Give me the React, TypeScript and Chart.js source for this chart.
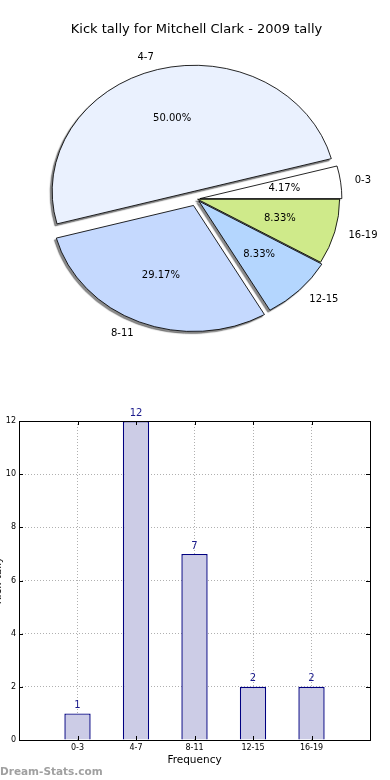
import React, { useEffect, useRef } from 'react';
import { Chart, registerables } from 'chart.js';

Chart.register(...registerables);

// ---------- data ----------
const TITLE = 'Kick tally for Mitchell Clark - 2009 tally';
const CATEGORIES = ['0-3', '4-7', '8-11', '12-15', '16-19'];
const COUNTS = [1, 12, 7, 2, 2];
const Y_TICKS = [0, 2, 4, 6, 8, 10, 12];
const X_AXIS_TITLE = 'Frequency';
const Y_AXIS_TITLE = 'Kick tally';
const WATERMARK = 'Dream-Stats.com';

// ---------- styles ----------
const FONT = 'DejaVu Sans';
const PIE_COLORS = ['#ffffff', '#eaf1fe', '#c5d9fe', '#b4d6fe', '#cfea8a'];
const PIE_EXPLODE_PX = [3, 8, 7, 3, 1];
const PIE_RADIUS = 126;
const PIE_XSCALE = 142 / 126;
const BAR_FILL = '#cccce6';
const BAR_EDGE = '#000080';

const rev = <T,>(a: T[]) => a.slice().reverse();

const pieDrawPlugin = {
  id: 'pieDraw',
  beforeDatasetsDraw(chart: any) {
    const ctx = chart.ctx as CanvasRenderingContext2D;
    const meta = chart.getDatasetMeta(0);
    const explode = rev(PIE_EXPLODE_PX);
    const drawAll = (shadow: boolean) => {
      meta.data.forEach((el: any, i: number) => {
        const { x, y, startAngle, endAngle } = el.getProps(['x', 'y', 'startAngle', 'endAngle'], true);
        const mid = (startAngle + endAngle) / 2;
        const d = explode[i];
        ctx.save();
        if (shadow) {
          ctx.translate(-2000, 0);
          ctx.shadowColor = 'rgba(60,60,60,0.6)';
          ctx.shadowOffsetX = 2000 - 2;
          ctx.shadowOffsetY = 2;
          ctx.shadowBlur = 1;
        }
        ctx.translate(x, y);
        ctx.scale(PIE_XSCALE, 1);
        ctx.translate(-x, -y);
        ctx.translate(Math.cos(mid) * d, Math.sin(mid) * d);
        el.draw(ctx);
        ctx.restore();
      });
    };
    drawAll(true);
    drawAll(false);
    return false;
  },
  afterDraw(chart: any) {
    const ctx = chart.ctx as CanvasRenderingContext2D;
    const meta = chart.getDatasetMeta(0);
    const explode = rev(PIE_EXPLODE_PX);
    const labels = rev(CATEGORIES);
    const values = rev(COUNTS);
    const total = COUNTS.reduce((a, b) => a + b, 0);
    ctx.save();
    ctx.fillStyle = '#000';
    ctx.font = `10px "${FONT}"`;
    ctx.textBaseline = 'middle';
    meta.data.forEach((el: any, i: number) => {
      const { x, y, startAngle, endAngle, outerRadius } = el.getProps(
        ['x', 'y', 'startAngle', 'endAngle', 'outerRadius'],
        true
      );
      const mid = (startAngle + endAngle) / 2;
      const d = explode[i];
      const c = Math.cos(mid);
      const s = Math.sin(mid);
      const lr = d + 1.1 * outerRadius;
      ctx.textAlign = c > 0 ? 'left' : 'right';
      ctx.fillText(labels[i], x + c * lr * PIE_XSCALE, y + s * lr);
      const pr = d + 0.6 * outerRadius;
      ctx.textAlign = 'center';
      ctx.fillText(((values[i] / total) * 100).toFixed(2) + '%', x + c * pr * PIE_XSCALE, y + s * pr);
    });
    ctx.restore();
  },
};

const barDecorPlugin = {
  id: 'barDecor',
  afterDraw(chart: any) {
    const ctx = chart.ctx as CanvasRenderingContext2D;
    const { left, top, right, bottom } = chart.chartArea;
    const xs = chart.scales.x;
    const ys = chart.scales.y;
    ctx.save();
    ctx.strokeStyle = '#000';
    ctx.lineWidth = 1;
    // inward tick marks
    ctx.beginPath();
    CATEGORIES.forEach((_, i) => {
      const px = Math.round(xs.getPixelForValue(i + 1)) + 0.5;
      ctx.moveTo(px, bottom);
      ctx.lineTo(px, bottom - 4);
      ctx.moveTo(px, top);
      ctx.lineTo(px, top + 4);
    });
    Y_TICKS.forEach((v) => {
      const py = Math.round(ys.getPixelForValue(v)) + 0.5;
      ctx.moveTo(left, py);
      ctx.lineTo(left + 4, py);
      ctx.moveTo(right, py);
      ctx.lineTo(right - 4, py);
    });
    ctx.stroke();
    ctx.strokeRect(Math.round(left) + 0.5, Math.round(top) + 0.5, Math.round(right - left), Math.round(bottom - top));
    // value labels
    const meta = chart.getDatasetMeta(0);
    ctx.fillStyle = '#1a1a8c';
    ctx.font = `10px "${FONT}"`;
    ctx.textAlign = 'center';
    ctx.textBaseline = 'bottom';
    meta.data.forEach((el: any, i: number) => {
      const { x, y } = el.getProps(['x', 'y'], true);
      ctx.fillText(String(COUNTS[i]), x, y - 3);
    });
    ctx.restore();
  },
};

export default function App() {
  const pieRef = useRef<HTMLCanvasElement>(null);
  const barRef = useRef<HTMLCanvasElement>(null);

  useEffect(() => {
    const pie = new Chart(pieRef.current as HTMLCanvasElement, {
      type: 'pie',
      data: {
        labels: rev(CATEGORIES),
        datasets: [
          {
            data: rev(COUNTS),
            backgroundColor: rev(PIE_COLORS),
            borderColor: '#000',
            borderWidth: 0.8,
            radius: PIE_RADIUS,
            rotation: 90,
          } as any,
        ],
      },
      options: {
        animation: false,
        responsive: false,
        events: [],
        rotation: 90,
        layout: { padding: { left: 3, right: 0, top: 0, bottom: 49.6 } },
        plugins: {
          legend: { display: false },
          tooltip: { enabled: false },
          title: {
            display: true,
            text: TITLE,
            color: '#000',
            font: { family: FONT, size: 13, weight: 'normal' },
            padding: { top: 22, bottom: 10 },
          },
        },
      } as any,
      plugins: [pieDrawPlugin],
    });

    const bar = new Chart(barRef.current as HTMLCanvasElement, {
      type: 'bar',
      data: {
        datasets: [
          {
            data: COUNTS.map((v, i) => ({ x: i + 1, y: v })),
            backgroundColor: BAR_FILL,
            borderColor: BAR_EDGE,
            borderWidth: 1.4,
            barPercentage: 0.45,
            categoryPercentage: 1,
          },
        ],
      },
      options: {
        animation: false,
        responsive: false,
        events: [],
        layout: { padding: { left: 0, right: 20, top: 21, bottom: 0 } },
        plugins: { legend: { display: false }, tooltip: { enabled: false } },
        scales: {
          x: {
            type: 'linear',
            min: 0,
            max: CATEGORIES.length + 1,
            offset: false,
            z: 1,
            afterFit: (s: any) => {
              s.height = 40;
            },
            afterBuildTicks: (s: any) => {
              s.ticks = Array.from({ length: CATEGORIES.length + 2 }, (_, i) => ({ value: i }));
            },
            ticks: {
              autoSkip: false,
              maxRotation: 0,
              padding: 3,
              color: '#000',
              font: { family: FONT, size: 8 },
              callback: (v: any) => CATEGORIES[Number(v) - 1] ?? '',
            },
            grid: { color: '#b0b0b0', lineWidth: 1, drawTicks: false, offset: false },
            border: { display: false, dash: [1, 2] },
            title: {
              display: true,
              text: X_AXIS_TITLE,
              color: '#000',
              font: { family: FONT, size: 10.5 },
              padding: { top: 0, bottom: 13.7 },
            },
          },
          y: {
            type: 'linear',
            min: 0,
            max: Y_TICKS[Y_TICKS.length - 1],
            z: 1,
            afterFit: (s: any) => {
              s.width = 31;
            },
            afterBuildTicks: (s: any) => {
              s.ticks = Y_TICKS.map((v) => ({ value: v }));
            },
            ticks: {
              padding: 3,
              color: '#000',
              font: { family: FONT, size: 8 },
            },
            grid: { color: '#b0b0b0', lineWidth: 1, drawTicks: false },
            border: { display: false, dash: [1, 2] },
            title: {
              display: true,
              text: Y_AXIS_TITLE,
              color: '#000',
              font: { family: FONT, size: 10.5 },
              padding: { top: 3.8, bottom: 0 },
            },
          },
        },
      } as any,
      plugins: [barDecorPlugin],
    });

    return () => {
      pie.destroy();
      bar.destroy();
    };
  }, []);

  return (
    <div style={{ position: 'fixed', left: 0, top: 0, width: 390, height: 780, background: '#fff', overflow: 'hidden' }}>
      <canvas
        ref={pieRef}
        width={390}
        height={400}
        style={{ position: 'absolute', left: 0, top: 0, width: 390, height: 400 }}
      />
      <canvas
        ref={barRef}
        width={402}
        height={380}
        style={{ position: 'absolute', left: -12, top: 400, width: 402, height: 380 }}
      />
      <div
        style={{
          position: 'absolute',
          left: 0,
          top: 763,
          fontFamily: FONT,
          fontSize: 10.5,
          fontWeight: 'bold',
          color: '#a0a0a0',
          lineHeight: '16px',
          whiteSpace: 'nowrap',
        }}
      >
        {WATERMARK}
      </div>
    </div>
  );
}
